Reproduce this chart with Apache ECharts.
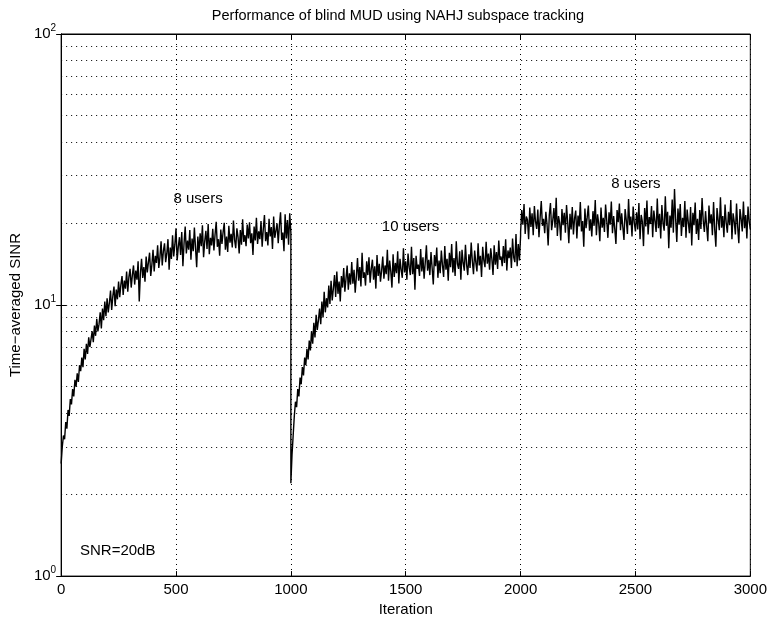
<!DOCTYPE html>
<html>
<head>
<meta charset="utf-8">
<script src="https://cdn.jsdelivr.net/npm/echarts@6/dist/echarts.min.js"></script>
<style>
  html, body { margin: 0; padding: 0; background: #fff; }
  #chart { width: 770px; height: 622px; }
</style>
</head>
<body>
<div id="chart"></div>
<script>
// SINR, one sample every 5 iterations
const step = 5;
const seg1Start = 0;    // 8 users
const seg1 = [
  2.6, 3.0, 3.3, 3.2, 3.7, 3.5, 4.1, 3.9, 4.5, 4.3,
  4.9, 4.6, 5.3, 5.0, 5.6, 5.2, 6.0, 5.7, 6.4, 5.9,
  6.9, 6.3, 7.2, 6.6, 7.6, 7.0, 7.1, 8.0, 7.3, 8.4,
  7.7, 8.9, 8.0, 8.5, 9.4, 8.2, 9.7, 8.8, 10.3, 9.1,
  10.6, 9.4, 10.2, 11.3, 9.6, 10.8, 11.7, 9.9, 11.4, 10.5,
  12.2, 10.7, 11.9, 12.8, 10.9, 12.3, 11.5, 13.3, 11.2, 12.7,
  13.6, 11.6, 12.9, 14.0, 11.9, 13.4, 12.4, 14.5, 10.3, 13.1,
  14.8, 12.6, 13.8, 12.2, 15.1, 13.2, 14.4, 15.6, 12.8, 14.1,
  16.0, 13.3, 15.2, 14.3, 16.6, 13.7, 15.0, 17.2, 14.0, 15.8,
  16.9, 14.4, 15.5, 17.5, 13.5, 16.3, 14.8, 18.1, 15.1, 16.7,
  19.2, 14.6, 16.4, 17.8, 15.3, 18.6, 13.9, 16.9, 19.5, 15.5,
  17.3, 16.0, 18.9, 14.7, 17.6, 15.8, 19.3, 16.2, 13.8, 17.9,
  15.6, 18.4, 16.5, 19.7, 15.0, 17.2, 18.8, 16.1, 19.9, 15.4,
  17.7, 16.6, 19.1, 15.9, 18.2, 20.3, 16.4, 17.5, 15.2, 19.0,
  16.8, 18.6, 20.1, 16.0, 17.9, 15.7, 19.6, 17.0, 18.3, 16.3,
  20.5, 17.4, 16.2, 19.2, 17.8, 15.5, 18.9, 16.7, 20.7, 17.1,
  18.1, 16.5, 19.8, 17.6, 20.2, 16.9, 18.4, 15.3, 19.5, 17.3,
  21.0, 16.8, 18.7, 17.5, 20.4, 16.4, 19.1, 21.5, 17.2, 18.6,
  16.6, 20.8, 17.9, 19.4, 16.1, 21.2, 17.7, 18.8, 20.0, 16.9,
  19.7, 22.0, 17.4, 18.5, 15.8, 21.6, 17.6, 20.6, 16.7, 21.8,
  18.5
];
const seg2Start = 1000; // 10 users
const seg2 = [
  2.2, 2.8, 3.3, 3.9, 4.4, 4.2, 4.9, 4.6, 5.4, 5.1,
  5.9, 5.5, 6.4, 6.0, 6.9, 6.3, 7.4, 6.8, 8.0, 7.2,
  8.6, 7.6, 9.2, 8.1, 8.8, 9.7, 8.5, 10.3, 9.0, 11.2,
  9.4, 10.6, 9.8, 11.8, 10.1, 12.3, 10.4, 11.5, 12.9, 10.7,
  13.3, 11.0, 12.2, 10.3, 12.8, 11.6, 13.7, 11.2, 12.5, 14.0,
  11.4, 13.1, 11.9, 14.4, 12.0, 13.5, 11.1, 12.7, 14.9, 12.3,
  13.8, 11.7, 15.6, 12.6, 13.2, 11.8, 14.5, 12.9, 15.0, 12.1,
  13.6, 14.7, 12.4, 13.9, 11.5, 15.3, 12.8, 14.2, 12.2, 13.4,
  15.1, 12.5, 14.0, 13.0, 16.0, 12.3, 14.6, 13.3, 11.6, 15.4,
  12.7, 14.3, 13.1, 15.8, 12.0, 14.8, 13.5, 12.6, 16.2, 13.2,
  14.5, 12.4, 15.5, 13.8, 12.9, 16.4, 13.0, 14.9, 11.4, 15.2,
  13.6, 14.1, 12.8, 16.1, 13.3, 15.0, 12.5, 14.4, 16.6, 13.4,
  14.7, 12.9, 15.7, 13.7, 11.9, 15.3, 13.9, 16.3, 12.6, 14.6,
  13.1, 15.9, 14.0, 12.7, 16.5, 13.5, 14.8, 12.3, 15.6, 13.8,
  16.8, 13.2, 14.9, 12.8, 17.2, 14.2, 13.6, 15.8, 12.4, 16.0,
  14.3, 13.4, 16.7, 14.1, 12.9, 15.4, 13.7, 17.0, 14.5, 13.0,
  15.9, 14.4, 13.3, 16.9, 14.0, 15.2, 12.7, 16.4, 14.6, 13.8,
  17.1, 14.2, 15.5, 13.5, 16.2, 14.8, 12.9, 16.6, 14.1, 15.7,
  13.6, 17.3, 14.7, 15.1, 13.9, 16.5, 14.3, 17.5, 13.4, 15.9,
  14.9, 16.3, 13.7, 17.6, 15.0, 14.4, 18.3, 13.9, 16.8, 14.6,
  18.0
];
const seg3Start = 2000; // 8 users again
const seg3 = [
  18.6, 22.4, 19.8, 23.6, 18.3, 21.2, 20.6, 17.5, 22.9, 19.4,
  21.8, 18.1, 23.2, 20.3, 19.1, 22.5, 17.8, 21.0, 24.2, 19.6,
  20.8, 18.4, 22.1, 19.9, 16.6, 21.5, 23.8, 18.9, 20.5, 22.8,
  19.3, 24.9, 18.0, 21.3, 20.1, 17.3, 22.6, 19.7, 21.9, 18.5,
  23.4, 20.2, 16.9, 21.7, 19.0, 23.0, 18.2, 20.9, 22.3, 17.6,
  21.4, 19.5, 24.0, 18.7, 20.4, 16.4, 22.7, 19.2, 21.1, 23.3,
  18.8, 20.7, 17.9, 22.2, 19.6, 24.4, 18.1, 21.6, 20.0, 17.2,
  22.9, 19.3, 21.0, 18.6, 23.5, 20.5, 17.7, 22.0, 19.8, 24.1,
  18.4, 21.3, 19.1, 16.8, 22.4, 20.2, 23.7, 18.9, 21.8, 19.4,
  17.4, 22.6, 20.6, 18.3, 24.6, 19.7, 21.2, 17.9, 23.1, 20.1,
  18.7, 22.0, 19.0, 23.8, 17.5, 21.5, 20.3, 16.5, 22.8, 19.5,
  24.3, 18.2, 21.1, 19.9, 23.2, 17.8, 22.3, 20.4, 18.6, 24.7,
  19.2, 21.7, 17.6, 23.4, 20.0, 18.8, 25.2, 19.6, 22.1, 16.2,
  21.4, 19.3, 24.5, 18.5, 26.8, 20.7, 17.1, 22.7, 19.8, 23.6,
  18.0, 21.0, 19.4, 24.2, 17.7, 22.5, 20.2, 18.4, 23.0, 16.6,
  21.9, 19.7, 23.9, 18.3, 20.8, 17.4, 22.4, 19.1, 24.8, 20.5,
  18.6, 22.2, 19.5, 17.2, 23.3, 20.0, 21.6, 18.1, 24.0, 19.0,
  16.4, 22.8, 20.6, 18.9, 25.0, 19.3, 21.3, 17.8, 23.5, 20.1,
  18.5, 22.1, 19.7, 24.4, 17.5, 21.8, 20.3, 18.2, 23.7, 19.4,
  16.9, 22.6, 20.8, 18.7, 24.1, 19.2, 21.5, 17.6, 23.1, 20.4,
  19.0
];

const xTicks = [0, 500, 1000, 1500, 2000, 2500, 3000];
const yMinorGrid = [2, 3, 4, 5, 6, 7, 8, 9, 20, 30, 40, 50, 60, 70, 80, 90];

// text annotations: [iteration, SINR, text]
const notes = [
  [596, 24.6, '8 users'],
  [1521, 19.4, '10 users'],
  [2502, 27.9, '8 users']
];
const snrNote = [82, 1.24, 'SNR=20dB'];

const FONT = 'Liberation Sans, Arial, Helvetica, sans-serif';
const dotted = { color: '#000', type: [1, 4], width: 1 };

const points = [];
[[seg1Start, seg1], [seg2Start, seg2], [seg3Start, seg3]].forEach(([start, vals]) => {
  vals.forEach((v, i) => points.push([start + i * step, v]));
});

const chart = echarts.init(document.getElementById('chart'));
chart.setOption({
  animation: false,
  backgroundColor: '#fff',
  textStyle: { fontFamily: FONT, color: '#000' },
  title: {
    text: 'Performance of blind MUD using NAHJ subspace tracking',
    left: 393, top: 3, textAlign: 'center',
    textStyle: { fontFamily: FONT, fontSize: 14.5, fontWeight: 'normal', color: '#000' }
  },
  grid: {
    left: 57, right: 18, top: 34, bottom: 40,
    show: true, borderColor: '#000', borderWidth: 1, backgroundColor: '#fff'
  },
  xAxis: [
    {
      type: 'value', min: 0, max: 3000, interval: 500,
      name: 'Iteration', nameLocation: 'middle', nameGap: 24,
      nameTextStyle: { fontFamily: FONT, fontSize: 15, color: '#000' },
      axisLine: { lineStyle: { color: '#000' } },
      axisTick: { inside: true, length: 5, lineStyle: { color: '#000' } },
      axisLabel: {
        fontFamily: FONT, fontSize: 15, color: '#000', margin: 6,
        formatter: v => (xTicks.includes(v) ? String(v) : '')
      },
      splitLine: { show: true, lineStyle: dotted }
    },
    {
      type: 'value', position: 'top', min: 0, max: 3000, interval: 500,
      axisLine: { lineStyle: { color: '#000' } },
      axisTick: { inside: true, length: 5, lineStyle: { color: '#000' } },
      axisLabel: { show: false },
      splitLine: { show: false }
    }
  ],
  yAxis: [
    {
      type: 'log', logBase: 10, min: 1, max: 100,
      name: 'Time−averaged SINR', nameLocation: 'middle', nameGap: 27,
      nameTextStyle: { fontFamily: FONT, fontSize: 15, color: '#000' },
      axisLine: { lineStyle: { color: '#000' } },
      axisTick: { inside: true, length: 5, lineStyle: { color: '#000' } },
      axisLabel: {
        margin: 5,
        formatter: v => '{b|10}{e|' + Math.round(Math.log10(v)) + '}',
        rich: {
          b: { fontFamily: FONT, fontSize: 15, color: '#000' },
          e: { fontFamily: FONT, fontSize: 10, color: '#000', padding: [0, 0, 12, 0] }
        }
      },
      splitLine: { show: true, lineStyle: dotted }
    },
    {
      type: 'log', logBase: 10, min: 1, max: 100, position: 'right',
      axisLine: { lineStyle: { color: '#000' } },
      axisTick: { inside: true, length: 5, lineStyle: { color: '#000' } },
      axisLabel: { show: false },
      splitLine: { show: false }
    }
  ],
  series: [
    {
      type: 'line',
      data: points,
      showSymbol: false,
      lineStyle: { color: '#000', width: 1.4 },
      z: 3,
      markLine: {
        silent: true,
        symbol: 'none',
        label: { show: false },
        lineStyle: dotted,
        data: yMinorGrid.map(v => ({ yAxis: v }))
      }
    },
    {
      type: 'scatter',
      data: notes.map(n => ({ value: [n[0], n[1]], name: n[2] })),
      symbolSize: 0,
      itemStyle: { opacity: 1 },
      label: {
        show: true, position: 'inside', formatter: p => p.name,
        fontFamily: FONT, fontSize: 15, color: '#000', opacity: 1
      },
      z: 5
    },
    {
      type: 'scatter',
      data: [{ value: [snrNote[0], snrNote[1]], name: snrNote[2] }],
      symbolSize: 0,
      itemStyle: { opacity: 1 },
      label: {
        show: true, position: 'right', distance: 0, formatter: p => p.name,
        fontFamily: FONT, fontSize: 15, color: '#000', opacity: 1
      },
      z: 5
    }
  ]
});
</script>
</body>
</html>
